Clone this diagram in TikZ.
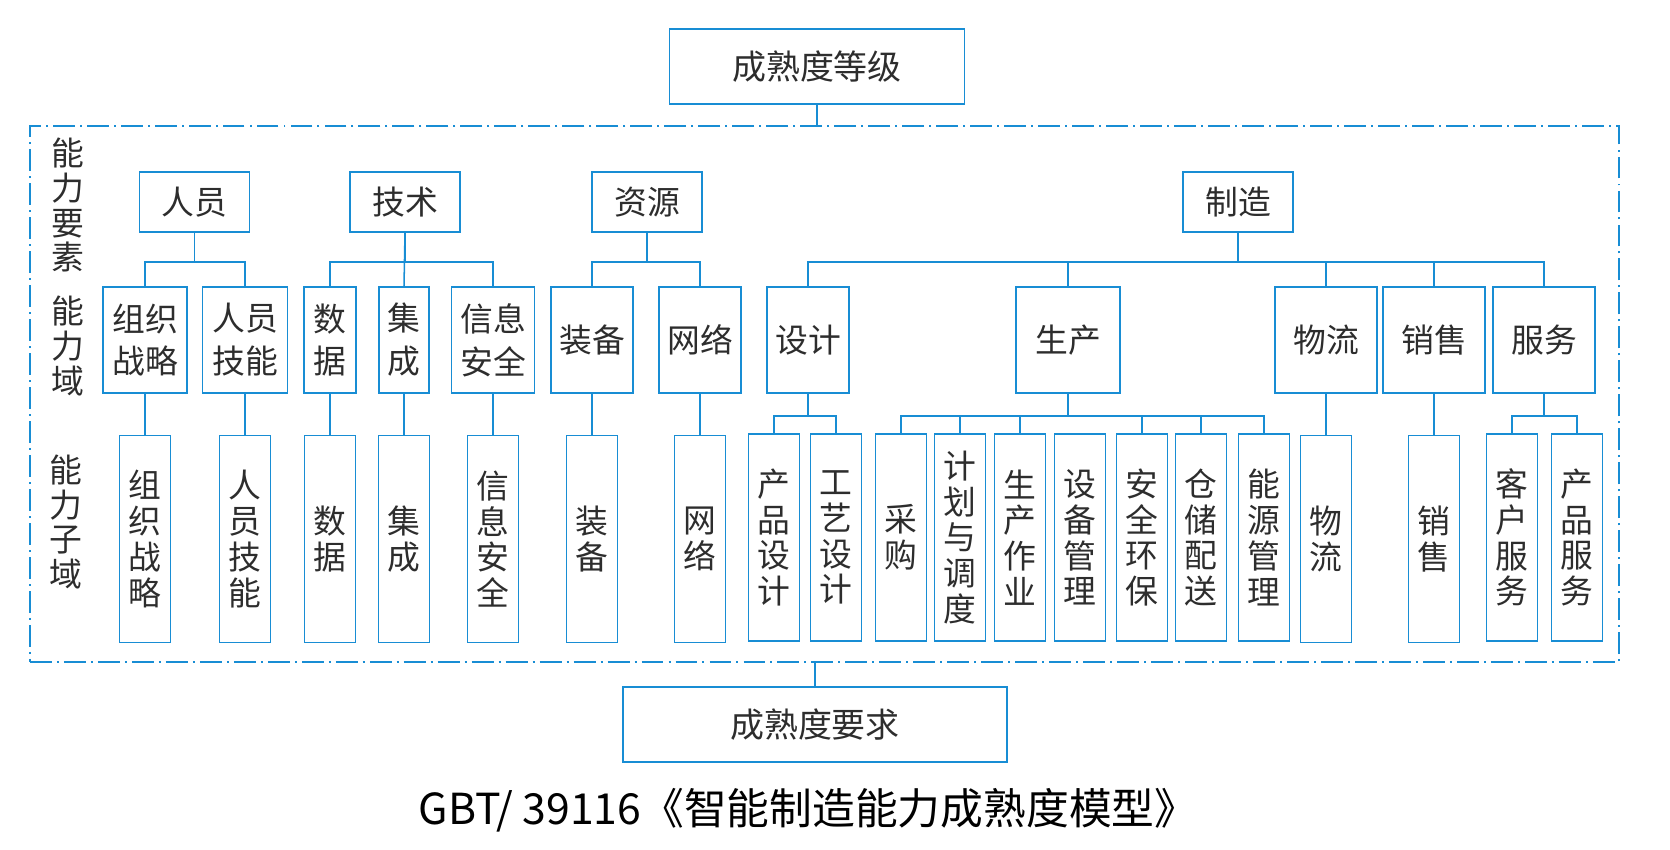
\documentclass[tikz,border=0pt]{standalone}
\usepackage{fontspec}
\setmainfont{Noto Sans CJK SC}
\usetikzlibrary{positioning,fit}
\definecolor{lineblue}{RGB}{24,141,212}
\definecolor{textgray}{RGB}{45,45,45}

\begin{document}
\begin{tikzpicture}[x=0.03cm, y=-0.03cm, line width=1.3pt, draw=lineblue,
    every node/.style={draw=lineblue, line width=1.3pt, rectangle, inner sep=0pt, align=center, text=textgray, font=\fontsize{28}{30.6}\selectfont},
    elem/.style={minimum width=3.3cm, minimum height=1.8cm},
    dom/.style={minimum height=3.18cm, font=\fontsize{28}{36.6}\selectfont},
    sub/.style={minimum width=1.53cm, minimum height=6.21cm},
    grade/.style={minimum height=2.25cm, font=\fontsize{29}{32}\selectfont},
    side/.style={draw=none, font=\fontsize{28}{29.8}\selectfont},
    frame/.style={dash pattern=on 18.7pt off 4.3pt on 1.7pt off 4.3pt, inner sep=0pt}]

    \useasboundingbox (0,0) rectangle (1670,850);

    \node[grade, minimum width=8.85cm] (top) at (817,66.5) {成熟度等级};
    \node[grade, minimum width=11.52cm] (bottom) at (815,724.5) {成熟度要求};

    \coordinate (f1) at (30,126);
    \coordinate (f2) at (1619,662);
    \node[frame, fit=(f1)(f2)] (frame) {};

    \node[side] (ysl) at (68,205) {能\\力\\要\\素};
    \node[side] (yl) at (68,346) {能\\力\\域};
    \node[side] (zyl) at (66,522) {能\\力\\子\\域};

    \node[elem] (renyuan) at (194.5,202) {人员};
    \node[elem] (jishu) at (405,202) {技术};
    \node[elem] (ziyuan) at (647,202) {资源};
    \node[elem] (zhizao) at (1238,202) {制造};

    \node[dom, minimum width=2.52cm] (zzzl) at (145,340) {组织\\战略};
    \node[dom, minimum width=2.55cm] (ryjn) at (245,340) {人员\\技能};
    \node[dom, minimum width=1.56cm] (shuju) at (330,340) {数\\据};
    \node[dom, minimum width=1.5cm] (jicheng) at (404,340) {集\\成};
    \node[dom, minimum width=2.49cm] (xxaq) at (493,340) {信息\\安全};
    \node[dom, minimum width=2.46cm] (zhuangbei) at (592,340) {装备};
    \node[dom, minimum width=2.46cm] (wangluo) at (700,340) {网络};
    \node[dom, minimum width=2.46cm] (sheji) at (808,340) {设计};
    \node[dom, minimum width=3.12cm] (shengchan) at (1068,340) {生产};
    \node[dom, minimum width=3.06cm] (wuliu) at (1326,340) {物流};
    \node[dom, minimum width=3.06cm] (xiaoshou) at (1434,340) {销售};
    \node[dom, minimum width=3.06cm] (fuwu) at (1544,340) {服务};

    \node[sub, below=1.23cm of zzzl] (zzzl2) {组\\织\\战\\略};
    \node[sub, below=1.23cm of ryjn] (ryjn2) {人\\员\\技\\能};
    \node[sub, below=1.23cm of shuju] (shuju2) {数\\据};
    \node[sub, below=1.23cm of jicheng] (jicheng2) {集\\成};
    \node[sub, below=1.23cm of xxaq] (xxaq2) {信\\息\\安\\全};
    \node[sub, below=1.23cm of zhuangbei] (zhuangbei2) {装\\备};
    \node[sub, below=1.23cm of wangluo] (wangluo2) {网\\络};
    \node[sub] (cpsj) at (774,537.5) {产\\品\\设\\计};
    \node[sub] (gysj) at (836,537.5) {工\\艺\\设\\计};
    \node[sub] (caigou) at (901,537.5) {采\\购};
    \node[sub] (jhdd) at (960,537.5) {计\\划\\与\\调\\度};
    \node[sub] (sczy) at (1020,537.5) {生\\产\\作\\业};
    \node[sub] (sbgl) at (1080,537.5) {设\\备\\管\\理};
    \node[sub] (aqhb) at (1142,537.5) {安\\全\\环\\保};
    \node[sub] (ccps) at (1201,537.5) {仓\\储\\配\\送};
    \node[sub] (nygl) at (1264,537.5) {能\\源\\管\\理};
    \node[sub, below=1.23cm of wuliu] (wuliu2) {物\\流};
    \node[sub, below=1.23cm of xiaoshou] (xiaoshou2) {销\\售};
    \node[sub] (khfw) at (1512,537.5) {客\\户\\服\\务};
    \node[sub] (cpfw) at (1577,537.5) {产\\品\\服\\务};

    \node[draw=none, text=black, font=\fontsize{36.5}{40}\selectfont, anchor=base] (title) at (808,824) {GBT/ 39116《智能制造能力成熟度模型》};

    \draw (top.south) -- (top.south |- frame.north);
    \draw (frame.south -| bottom.north) -- (bottom.north);

    \draw (renyuan.south) -- ++(0,29) -| (zzzl.north);
    \draw (renyuan.south) -- ++(0,29) -| (ryjn.north);
    \draw (jishu.south) -- ++(0,29) -| (shuju.north);
    \draw (jishu.south) -- (jicheng.north);
    \draw (jishu.south) -- ++(0,29) -| (xxaq.north);
    \draw (ziyuan.south) -- ++(0,29) -| (zhuangbei.north);
    \draw (ziyuan.south) -- ++(0,29) -| (wangluo.north);
    \draw (zhizao.south) -- ++(0,29) -| (sheji.north);
    \draw (zhizao.south) -- ++(0,29) -| (shengchan.north);
    \draw (zhizao.south) -- ++(0,29) -| (wuliu.north);
    \draw (zhizao.south) -- ++(0,29) -| (xiaoshou.north);
    \draw (zhizao.south) -- ++(0,29) -| (fuwu.north);

    \draw (zzzl.south) -- (zzzl2.north);
    \draw (ryjn.south) -- (ryjn2.north);
    \draw (shuju.south) -- (shuju2.north);
    \draw (jicheng.south) -- (jicheng2.north);
    \draw (xxaq.south) -- (xxaq2.north);
    \draw (zhuangbei.south) -- (zhuangbei2.north);
    \draw (wangluo.south) -- (wangluo2.north);
    \draw (sheji.south) -- ++(0,22) -| (cpsj.north);
    \draw (sheji.south) -- ++(0,22) -| (gysj.north);
    \draw (shengchan.south) -- ++(0,22) -| (caigou.north);
    \draw (shengchan.south) -- ++(0,22) -| (jhdd.north);
    \draw (shengchan.south) -- ++(0,22) -| (sczy.north);
    \draw (shengchan.south) -- ++(0,22) -| (aqhb.north);
    \draw (shengchan.south) -- ++(0,22) -| (ccps.north);
    \draw (shengchan.south) -- ++(0,22) -| (nygl.north);
    \draw (wuliu.south) -- (wuliu2.north);
    \draw (xiaoshou.south) -- (xiaoshou2.north);
    \draw (fuwu.south) -- ++(0,22) -| (khfw.north);
    \draw (fuwu.south) -- ++(0,22) -| (cpfw.north);
\end{tikzpicture}
\end{document}
